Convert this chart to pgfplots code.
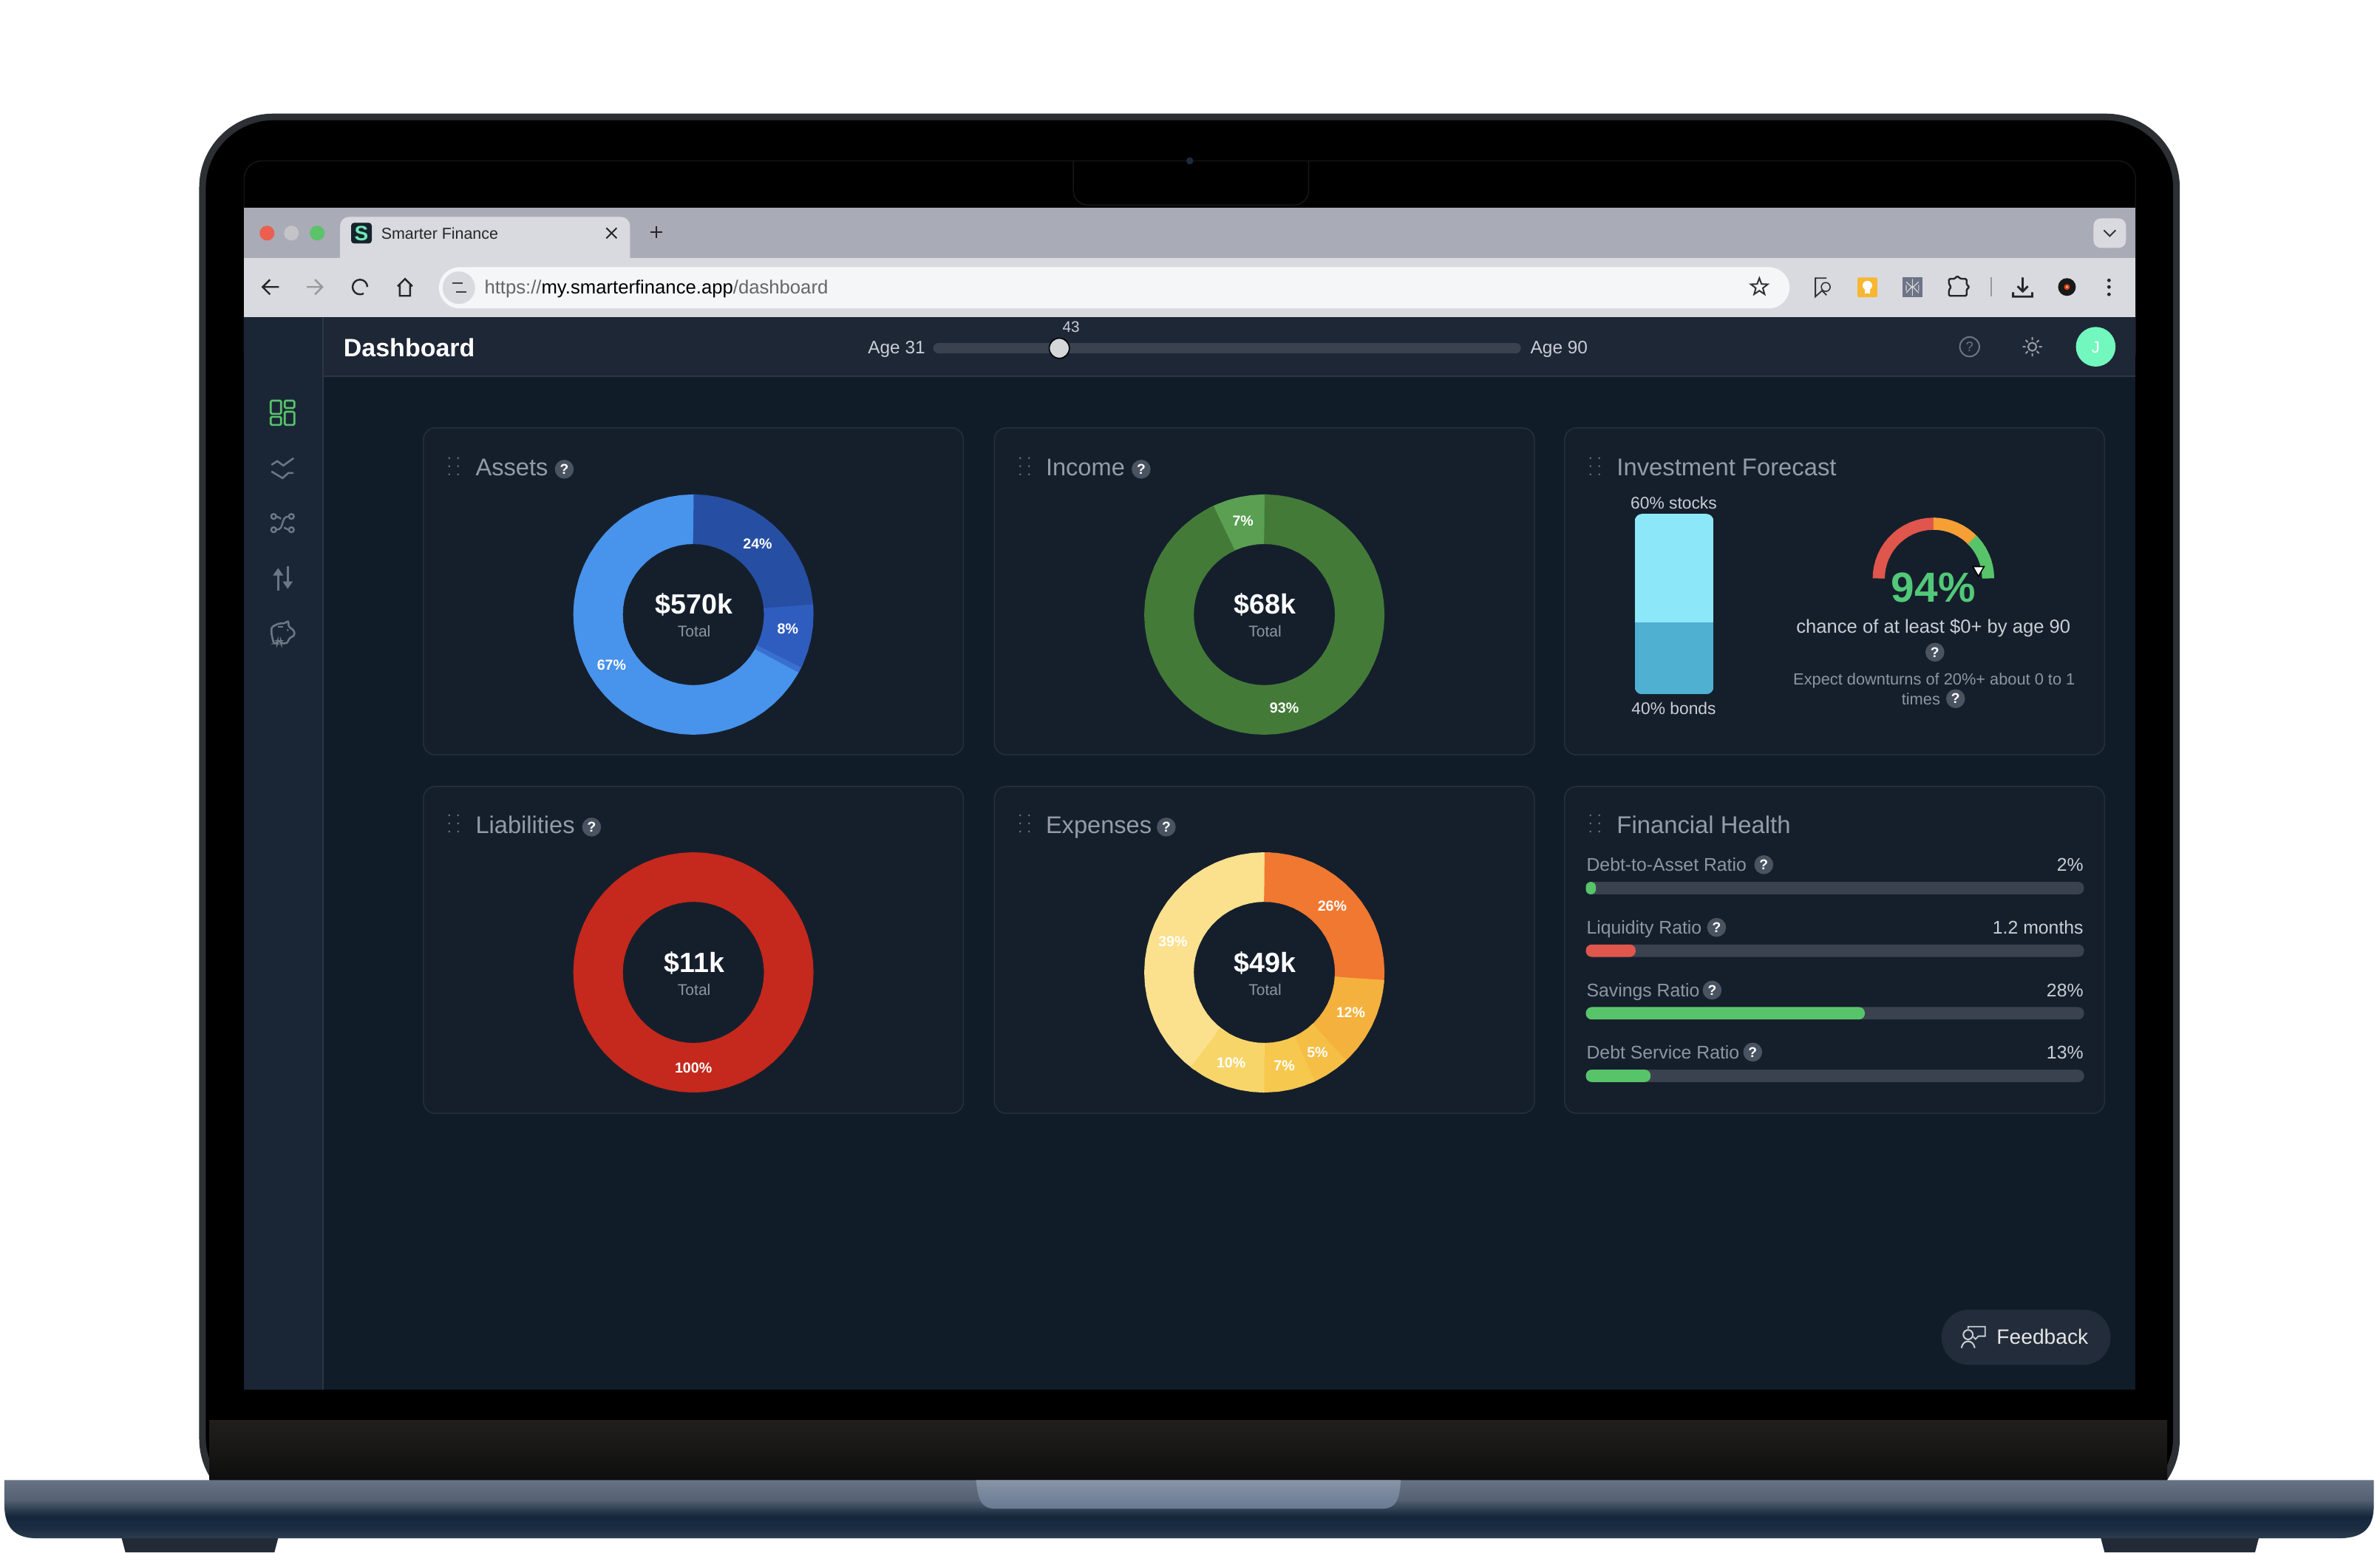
\documentclass[border=0pt]{standalone}
\usepackage{fontspec}
\setmainfont{Liberation Sans}
\usepackage{pgfplots}
\pgfplotsset{compat=1.18}
\usepgfplotslibrary{polar}
\usetikzlibrary{shapes.geometric}
\definecolor{bgmain}{HTML}{101C28}
\definecolor{cardbg}{HTML}{151F2C}
\definecolor{cardln}{HTML}{252F3C}
\definecolor{hdrbg}{HTML}{1E2736}
\definecolor{sidebg}{HTML}{1A2636}
\definecolor{divln}{HTML}{2C3644}
\definecolor{ttl}{HTML}{939CA8}
\definecolor{qbg}{HTML}{4A5361}
\definecolor{txt}{HTML}{C9CED5}
\definecolor{dim}{HTML}{8D97A3}
\definecolor{icon}{HTML}{6D7683}
\definecolor{grn}{HTML}{58C46A}
\definecolor{grnt}{HTML}{52C878}
\definecolor{redb}{HTML}{E0564C}
\definecolor{track}{HTML}{3A4250}
\definecolor{tabs}{HTML}{A9ABB6}
\definecolor{tool}{HTML}{D9DAE0}
\definecolor{assetL}{HTML}{4893EC}
\definecolor{assetS}{HTML}{3A6FD0}
\definecolor{assetM}{HTML}{2F5DBF}
\definecolor{assetD}{HTML}{264FA3}
\definecolor{incD}{HTML}{437A38}
\definecolor{incL}{HTML}{5A9F52}
\definecolor{liab}{HTML}{C5281C}
\definecolor{exp1}{HTML}{F07830}
\definecolor{exp2}{HTML}{F5B13D}
\definecolor{exp3}{HTML}{F5BE45}
\definecolor{exp4}{HTML}{F7C84E}
\definecolor{exp5}{HTML}{F8D569}
\definecolor{exp6}{HTML}{FBE08E}
\definecolor{gaugeO}{HTML}{F59F35}
\definecolor{bondc}{HTML}{50B0D2}
\definecolor{stockc}{HTML}{8CE8F9}
\pgfdeclareverticalshading{basesh}{100bp}{rgb(0bp)=(0.18,0.24,0.31); rgb(25bp)=(0.18,0.24,0.31); rgb(33bp)=(0.11,0.18,0.26); rgb(44bp)=(0.08,0.15,0.23); rgb(58bp)=(0.33,0.38,0.45); rgb(75bp)=(0.40,0.45,0.52); rgb(100bp)=(0.40,0.45,0.52)}
\pgfplotsset{
  px/.style={scale only axis,width=805pt,height=525pt,xmin=0,xmax=3226.4,ymin=0,ymax=2104,y dir=reverse,hide axis,clip=false,at={(0pt,0pt)},anchor=south west,disabledatascaling},
  donut/.style={hide axis,scale only axis,width=81.5pt,height=81.5pt,xmin=0,xmax=360,ymin=0,ymax=163,clip=false,anchor=center},
  ring/.style={no marks,line width=16.75pt,line cap=butt,line join=round,color=#1},
  garc/.style={no marks,line width=4.1pt,line cap=butt,line join=round,color=#1},
}
\newcommand\T[6][base west]{\node[anchor=#1,inner sep=0pt,text=#5,font=\fontsize{#4}{#4}\selectfont,yshift={-0.36*#4pt}] at (axis cs:#2,#3) {#6};}
\newcommand\Q[2]{\fill[qbg] (axis cs:#1,#2) circle (3.2pt);\node[inner sep=0pt,text=white,font=\fontsize{4.8}{4.8}\selectfont\bfseries] at (axis cs:#1,#2) {?};}
\newcommand\Grip[2]{\fill[icon] (axis cs:#1,{#2-11}) circle (0.35pt) (axis cs:#1,#2) circle (0.35pt) (axis cs:#1,{#2+11}) circle (0.35pt) (axis cs:{#1+12},{#2-11}) circle (0.35pt) (axis cs:{#1+12},#2) circle (0.35pt) (axis cs:{#1+12},{#2+11}) circle (0.35pt);}
\newcommand\Card[2]{\filldraw[fill=cardbg,draw=cardln,line width=0.4pt,rounded corners=4pt] (axis cs:#1,#2) rectangle (axis cs:{#1+732},{#2+443});}
\begin{document}
\begin{tikzpicture}
\begin{axis}[px]
\fill[white] (axis cs:0,0) rectangle (axis cs:3226.4,2104);
% lid
\fill[fill={rgb,255:red,44;green,47;blue,52},rounded corners=25pt] (axis cs:270,154) rectangle (axis cs:2955,2050);
\fill[black,rounded corners=23pt] (axis cs:279,163) rectangle (axis cs:2946,2040);
\draw[draw={rgb,255:red,20;green,20;blue,20},line width=0.4pt,rounded corners=6pt] (axis cs:331,218) rectangle (axis cs:2895,500);
\draw[draw={rgb,255:red,22;green,22;blue,22},line width=0.4pt,rounded corners=5pt] (axis cs:1455,200) -- (axis cs:1455,278) -- (axis cs:1774,278) -- (axis cs:1774,200);
\fill[black] (axis cs:1440,190) rectangle (axis cs:1790,217);
\fill[fill={rgb,255:red,29;green,42;blue,62}] (axis cs:1613,218) circle (1.2pt);
% chin
\shade[top color={rgb,255:red,32;green,31;blue,29},bottom color={rgb,255:red,14;green,14;blue,14}] (axis cs:284,1925) rectangle (axis cs:2938,2006);
% feet
\fill[fill={rgb,255:red,34;green,42;blue,54}] (axis cs:165,2085) -- (axis cs:377,2085) -- (axis cs:372,2104) -- (axis cs:170,2104) -- cycle;
\fill[fill={rgb,255:red,34;green,42;blue,54}] (axis cs:2848,2085) -- (axis cs:3062,2085) -- (axis cs:3057,2104) -- (axis cs:2853,2104) -- cycle;
% base
\shade[shading=basesh] (axis cs:6,2006) -- (axis cs:3218,2006) -- (axis cs:3218,2040) .. controls (axis cs:3218,2070) and (axis cs:3205,2085) .. (axis cs:3170,2085) -- (axis cs:50,2085) .. controls (axis cs:20,2085) and (axis cs:6,2070) .. (axis cs:6,2040) -- cycle;
\shade[top color={rgb,255:red,136;green,148;blue,166},bottom color={rgb,255:red,104;green,122;blue,146}] (axis cs:1323,2006) -- (axis cs:1899,2006) .. controls (axis cs:1897,2030) and (axis cs:1895,2045) .. (axis cs:1872,2045) -- (axis cs:1350,2045) .. controls (axis cs:1328,2045) and (axis cs:1326,2030) .. (axis cs:1323,2006) -- cycle;
% screen
\fill[bgmain] (axis cs:331,282) rectangle (axis cs:2895,1883);
\fill[tabs] (axis cs:331,282) rectangle (axis cs:2895,350);
\fill[tool] (axis cs:331,350) rectangle (axis cs:2895,430);
\fill[hdrbg] (axis cs:331,430) rectangle (axis cs:2895,510);
\fill[sidebg] (axis cs:331,430) rectangle (axis cs:438,1883);
\draw[divln,line width=0.5pt] (axis cs:438,430) -- (axis cs:438,1883);
\draw[divln,line width=0.5pt] (axis cs:438,510) -- (axis cs:2895,510);
% tab strip
\fill[tool,rounded corners=3pt] (axis cs:461,294) rectangle (axis cs:854,370);
\fill[fill={rgb,255:red,236;green,95;blue,78}] (axis cs:362,316) circle (2.5pt);
\fill[fill={rgb,255:red,196;green,196;blue,200}] (axis cs:395,316) circle (2.5pt);
\fill[fill={rgb,255:red,92;green,195;blue,106}] (axis cs:430,316) circle (2.5pt);
\fill[fill={rgb,255:red,22;green,35;blue,45},rounded corners=1pt] (axis cs:476,302) rectangle (axis cs:504,330);
\node[inner sep=0pt,text={rgb,255:red,110;green,231;blue,183},font=\fontsize{7}{7}\selectfont\bfseries] at (axis cs:490,316) {S};
\T{516}{316}{5.35}{black!85}{Smarter Finance}
\draw[black!85,line width=0.5pt] (axis cs:822,309) -- (axis cs:836,323) (axis cs:822,323) -- (axis cs:836,309);
\draw[black!85,line width=0.5pt] (axis cs:882,315) -- (axis cs:898,315) (axis cs:890,307) -- (axis cs:890,323);
\fill[tool,rounded corners=2.5pt] (axis cs:2838,296) rectangle (axis cs:2882,336);
\draw[black!80,line width=0.5pt] (axis cs:2852,312) -- (axis cs:2860,320) -- (axis cs:2868,312);
% toolbar
\draw[black!85,line width=0.6pt] (axis cs:356,389) -- (axis cs:378,389) (axis cs:366,379) -- (axis cs:356,389) -- (axis cs:366,399);
\draw[black!40,line width=0.6pt] (axis cs:416,389) -- (axis cs:437,389) (axis cs:427,379) -- (axis cs:437,389) -- (axis cs:427,399);
\draw[black!85,line width=0.6pt] (axis cs:498,389) arc[start angle=0,end angle=300,radius=2.5pt];
\draw[black!85,line width=0.6pt] (axis cs:539,388) -- (axis cs:549,378) -- (axis cs:559,388) (axis cs:542,386) -- (axis cs:542,401) -- (axis cs:556,401) -- (axis cs:556,386);
\fill[fill={rgb,255:red,245;green,246;blue,248},rounded corners=7pt] (axis cs:595,362) rectangle (axis cs:2426,418);
\fill[tool] (axis cs:622,390) circle (5.5pt);
\draw[black!75,line width=0.4pt] (axis cs:613,384) -- (axis cs:627,384) (axis cs:618,396) -- (axis cs:632,396);
\T{656}{389}{6.42}{black}{\textcolor{black!60}{https://}my.smarterfinance.app\textcolor{black!60}{/dashboard}}
\node[star,star points=5,star point ratio=2.4,draw=black!80,line width=0.5pt,inner sep=0pt,minimum size=6pt] at (axis cs:2385,389) {};
% bookmark
\draw[black!80,line width=0.45pt] (axis cs:2476,377) -- (axis cs:2461,377) -- (axis cs:2461,402) -- (axis cs:2470,394) -- (axis cs:2476,400);
\filldraw[fill=tool,draw=black!80,line width=0.4pt] (axis cs:2475,389) circle (1.5pt);
% yellow
\fill[fill={rgb,255:red,247;green,183;blue,49},rounded corners=0.6pt] (axis cs:2518,376) rectangle (axis cs:2545,403);
\fill[white] (axis cs:2531.5,387) circle (1.6pt);
\fill[white] (axis cs:2528,393) rectangle (axis cs:2535,398);
% grey
\fill[fill={rgb,255:red,108;green,116;blue,134}] (axis cs:2579,376) rectangle (axis cs:2606,403);
\draw[white!85!black,line width=0.3pt] (axis cs:2592.5,378) -- (axis cs:2592.5,401) (axis cs:2584,382) -- (axis cs:2592.5,390) -- (axis cs:2601,382) (axis cs:2584,397) -- (axis cs:2592.5,388) -- (axis cs:2601,397) (axis cs:2584,386) -- (axis cs:2584,394) (axis cs:2601,386) -- (axis cs:2601,394);
% puzzle
\draw[black!85,line width=0.6pt,rounded corners=0.4pt] (axis cs:2642,378) -- (axis cs:2650,378) -- (axis cs:2653,374) -- (axis cs:2658,378) -- (axis cs:2666,378) -- (axis cs:2666,386) -- (axis cs:2670,389) -- (axis cs:2666,392) -- (axis cs:2666,401) -- (axis cs:2642,401) -- (axis cs:2642,393) -- (axis cs:2645,389) -- (axis cs:2642,385) -- cycle;
\draw[black!40,line width=0.5pt] (axis cs:2699,376) -- (axis cs:2699,402);
% download
\draw[black!85,line width=0.7pt] (axis cs:2742,376) -- (axis cs:2742,394) (axis cs:2735,388) -- (axis cs:2742,395) -- (axis cs:2749,388) (axis cs:2729,396) -- (axis cs:2729,402) -- (axis cs:2755,402) -- (axis cs:2755,396);
% disc
\fill[black!90] (axis cs:2802,389) circle (3pt);
\fill[fill={rgb,255:red,224;green,60;blue,40}] (axis cs:2802,389) circle (1pt);
\fill[fill={rgb,255:red,250;green,210;blue,80}] (axis cs:2802,389) circle (0.4pt);
\fill[black!85] (axis cs:2859,380) circle (0.6pt) (axis cs:2859,389) circle (0.6pt) (axis cs:2859,399) circle (0.6pt);
% header
\T{465}{471}{8.5}{white}{\bfseries Dashboard}
\T[base east]{1255}{471}{6.1}{txt}{Age 31}
\T{2074}{471}{6.1}{txt}{Age 90}
\T[base]{1452}{443}{5.2}{txt}{43}
\addplot[color=track,line width=3.4pt,line cap=round] coordinates {(1272,472) (2055,472)};
\addplot[only marks,mark=*,mark size=3.4pt,mark options={fill={rgb,255:red,213;green,214;blue,216},draw=none}] coordinates {(1436,472)};
\draw[icon,line width=0.5pt] (axis cs:2670,470) circle (3.3pt);
\node[inner sep=0pt,text=icon,font=\fontsize{4.6}{4.6}\selectfont] at (axis cs:2670,470) {?};
\draw[icon!70!white,line width=0.5pt] (axis cs:2755,470) circle (1.4pt);
\draw[icon!70!white,line width=0.5pt] (axis cs:2755,457) -- (axis cs:2755,461) (axis cs:2755,479) -- (axis cs:2755,483) (axis cs:2742,470) -- (axis cs:2746,470) (axis cs:2764,470) -- (axis cs:2768,470) (axis cs:2746,461) -- (axis cs:2749,464) (axis cs:2761,476) -- (axis cs:2764,479) (axis cs:2746,479) -- (axis cs:2749,476) (axis cs:2761,464) -- (axis cs:2764,461);
\fill[fill={rgb,255:red,114;green,248;blue,190}] (axis cs:2841,470) circle (6.7pt);
\T[base]{2841}{470}{5.5}{white}{J}
% side icons
\draw[grn,line width=0.65pt,rounded corners=0.4pt] (axis cs:367,543) rectangle (axis cs:381,561) (axis cs:386,543) rectangle (axis cs:399,553) (axis cs:367,565) rectangle (axis cs:381,576) (axis cs:386,558) rectangle (axis cs:399,576);
\draw[icon,line width=0.65pt] (axis cs:368,630) -- (axis cs:376,625) -- (axis cs:384,631) -- (axis cs:398,621) (axis cs:368,639) -- (axis cs:383,648) -- (axis cs:391,641) -- (axis cs:398,641);
\draw[icon,line width=0.6pt] (axis cs:371,700) circle (0.85pt) (axis cs:395,700) circle (0.85pt) (axis cs:371,718) circle (0.85pt) (axis cs:395,718) circle (0.85pt);
\draw[icon,line width=0.6pt] (axis cs:375,700) -- (axis cs:381,703) (axis cs:385,715) -- (axis cs:391,718) (axis cs:391,700) .. controls (axis cs:380,700) and (axis cs:386,718) .. (axis cs:375,718);
\draw[icon,line width=0.7pt] (axis cs:377,800) -- (axis cs:377,775) (axis cs:390,767) -- (axis cs:390,790);
\fill[icon] (axis cs:370,780) -- (axis cs:377,770) -- (axis cs:384,780) -- cycle (axis cs:383,788) -- (axis cs:390,798) -- (axis cs:397,788) -- cycle;
\draw[icon,line width=0.65pt,rounded corners=0.7pt] (axis cs:368,850) -- (axis cs:378,845) -- (axis cs:386,845) -- (axis cs:391,841) -- (axis cs:391,849) -- (axis cs:399,855) -- (axis cs:399,862) -- (axis cs:393,864) -- (axis cs:389,872) -- (axis cs:381,872) -- (axis cs:381,869) -- (axis cs:376,869) -- (axis cs:376,872) -- (axis cs:371,872) -- (axis cs:368,859) -- cycle;
\draw[icon,line width=0.5pt] (axis cs:377,850) -- (axis cs:384,850);
\fill[icon] (axis cs:390,854) circle (0.35pt);
% cards
\Card{574}{580}\Card{1348}{580}\Card{2121}{580}\Card{574}{1066}\Card{1348}{1066}\Card{2121}{1066}
\Grip{609}{632}\Grip{1383}{632}\Grip{2156}{632}\Grip{609}{1116}\Grip{1383}{1116}\Grip{2156}{1116}
\T{644}{633}{8.15}{ttl}{Assets}
\T{1417}{633}{8.15}{ttl}{Income}
\T{2191}{633}{8.2}{ttl}{Investment Forecast}
\T{644}{1118}{8.15}{ttl}{Liabilities}
\T{1417}{1118}{8.15}{ttl}{Expenses}
\T{2191}{1118}{8.2}{ttl}{Financial Health}
\Q{765}{636}\Q{1547}{636}\Q{802}{1121}\Q{1581}{1121}
% forecast texts
\T[base]{2269}{682}{5.7}{txt}{60\% stocks}
\T[base]{2269}{960}{5.7}{txt}{40\% bonds}
\T[base]{2621}{796}{14.2}{grnt}{\bfseries 94\%}
\T[base]{2621}{849}{6.4}{txt}{chance of at least \$0+ by age 90}
\Q{2623}{884}
\T[base]{2622}{920}{5.45}{dim}{Expect downturns of 20\%+ about 0 to 1}
\T[base]{2604}{947}{5.45}{dim}{times}
\Q{2651}{947}
% health texts
\T{2150}{1172}{6.2}{dim}{Debt-to-Asset Ratio}\Q{2391}{1172}
\T{2150}{1257}{6.2}{dim}{Liquidity Ratio}\Q{2327}{1257}
\T{2150}{1342}{6.2}{dim}{Savings Ratio}\Q{2321}{1342}
\T{2150}{1426}{6.2}{dim}{Debt Service Ratio}\Q{2376}{1426}
\T[base east]{2825}{1172}{6.2}{txt}{2\%}
\T[base east]{2825}{1257}{6.2}{txt}{1.2 months}
\T[base east]{2825}{1342}{6.2}{txt}{28\%}
\T[base east]{2825}{1426}{6.2}{txt}{13\%}
% feedback
\fill[fill={rgb,255:red,34;green,44;blue,58},rounded corners=9.2pt] (axis cs:2632,1775) rectangle (axis cs:2861,1850);
\T{2706}{1812}{7.05}{white!90!black}{Feedback}
\draw[txt,line width=0.45pt] (axis cs:2668,1801) -- (axis cs:2668,1798) -- (axis cs:2691,1798) -- (axis cs:2691,1811) -- (axis cs:2682,1811) -- (axis cs:2678,1815) -- (axis cs:2675,1812);
\draw[txt,line width=0.5pt] (axis cs:2668,1809) circle (1.6pt) (axis cs:2659,1827) .. controls (axis cs:2661,1815) and (axis cs:2675,1815) .. (axis cs:2677,1827);
\coordinate (d1) at (axis cs:940,833);
\coordinate (d2) at (axis cs:1714,833);
\coordinate (d3) at (axis cs:940,1318);
\coordinate (d4) at (axis cs:1714,1318);
\coordinate (g) at (axis cs:2621,784);
\coordinate (barA) at (axis cs:2216,696.5);
\coordinate (barB) at (axis cs:2323,941);
\coordinate (hc) at (axis cs:2487.5,1331);
\end{axis}
% Assets
\begin{polaraxis}[donut,at={(d1)}]
\addplot[ring=assetL] coordinates {(-24,129)(-30,129)(-36,129)(-42,129)(-48,129)(-54,129)(-60,129)(-66,129)(-72,129)(-78,129)(-84,129)(-90,129)(-96,129)(-102,129)(-108,129)(-114,129)(-120,129)(-126,129)(-132,129)(-138,129)(-144,129)(-150,129)(-156,129)(-162,129)(-168,129)(-174,129)(-180,129)(-186,129)(-192,129)(-198,129)(-204,129)(-210,129)(-216,129)(-222,129)(-228,129)(-234,129)(-240,129)(-246,129)(-252,129)(-258,129)(-264,129)(-270,129)(-273,129)};
\addplot[ring=assetD] coordinates {(90,129)(89.5,129)(84,129)(78,129)(72,129)(66,129)(60,129)(54,129)(48,129)(42,129)(36,129)(30,129)(24,129)(18,129)(12,129)(6,129)(2,129)};
\addplot[ring=assetM] coordinates {(5,129)(4.5,129)(0,129)(-6,129)(-12,129)(-18,129)(-24,129)(-28,129)};
\addplot[ring=assetS] coordinates {(-26,129)(-26.3,129)(-28.7,129)(-29,129)};
\end{polaraxis}
% Income
\begin{polaraxis}[donut,at={(d2)}]
\addplot[ring=incL] coordinates {(-242,129)(-246,129)(-252,129)(-258,129)(-264,129)(-270,129)(-273,129)};
\addplot[ring=incD] coordinates {(90,129)(89.5,129)(84,129)(78,129)(72,129)(66,129)(60,129)(54,129)(48,129)(42,129)(36,129)(30,129)(24,129)(18,129)(12,129)(6,129)(0,129)(-6,129)(-12,129)(-18,129)(-24,129)(-30,129)(-36,129)(-42,129)(-48,129)(-54,129)(-60,129)(-66,129)(-72,129)(-78,129)(-84,129)(-90,129)(-96,129)(-102,129)(-108,129)(-114,129)(-120,129)(-126,129)(-132,129)(-138,129)(-144,129)(-150,129)(-156,129)(-162,129)(-168,129)(-174,129)(-180,129)(-186,129)(-192,129)(-198,129)(-204,129)(-210,129)(-216,129)(-222,129)(-228,129)(-234,129)(-240,129)(-244.5,129)(-245,129)};
\end{polaraxis}
% Liabilities
\begin{polaraxis}[donut,at={(d3)}]
\addplot[ring=liab] coordinates {(96,129)(90,129)(84,129)(78,129)(72,129)(66,129)(60,129)(54,129)(48,129)(42,129)(36,129)(30,129)(24,129)(18,129)(12,129)(6,129)(0,129)(-6,129)(-12,129)(-18,129)(-24,129)(-30,129)(-36,129)(-42,129)(-48,129)(-54,129)(-60,129)(-66,129)(-72,129)(-78,129)(-84,129)(-90,129)(-96,129)(-102,129)(-108,129)(-114,129)(-120,129)(-126,129)(-132,129)(-138,129)(-144,129)(-150,129)(-156,129)(-162,129)(-168,129)(-174,129)(-180,129)(-186,129)(-192,129)(-198,129)(-204,129)(-210,129)(-216,129)(-222,129)(-228,129)(-234,129)(-240,129)(-246,129)(-252,129)(-258,129)(-264,129)(-270,129)};
\end{polaraxis}
% Expenses
\begin{polaraxis}[donut,at={(d4)}]
\addplot[ring=exp6] coordinates {(-125,129)(-132,129)(-138,129)(-144,129)(-150,129)(-156,129)(-162,129)(-168,129)(-174,129)(-180,129)(-186,129)(-192,129)(-198,129)(-204,129)(-210,129)(-216,129)(-222,129)(-228,129)(-234,129)(-240,129)(-246,129)(-252,129)(-258,129)(-264,129)(-270,129)(-273,129)};
\addplot[ring=exp1] coordinates {(90,129)(89.5,129)(84,129)(78,129)(72,129)(66,129)(60,129)(54,129)(48,129)(42,129)(36,129)(30,129)(24,129)(18,129)(12,129)(6,129)(0,129)(-6,129)};
\addplot[ring=exp2] coordinates {(-3.6,129)(-4.1,129)(-9,129)(-15,129)(-21,129)(-27,129)(-33,129)(-39,129)(-45,129)(-50,129)};
\addplot[ring=exp3] coordinates {(-47,129)(-47.5,129)(-53,129)(-59,129)(-65,129)(-68,129)};
\addplot[ring=exp4] coordinates {(-65,129)(-65.5,129)(-71,129)(-77,129)(-83,129)(-90,129)(-93,129)};
\addplot[ring=exp5] coordinates {(-90,129)(-90.5,129)(-96,129)(-102,129)(-108,129)(-114,129)(-120,129)(-127.5,129)(-128,129)};
\end{polaraxis}
% Gauge
\begin{polaraxis}[hide axis,scale only axis,width=41pt,height=41pt,xmin=0,xmax=360,ymin=0,ymax=82,clip=false,anchor=center,at={(g)}]
\addplot[garc=redb] coordinates {(180,74)(179.5,74)(174,74)(168,74)(162,74)(156,74)(150,74)(144,74)(138,74)(132,74)(126,74)(120,74)(114,74)(108,74)(102,74)(96,74)(90,74)(87,74)};
\addplot[garc=gaugeO] coordinates {(90,74)(89.5,74)(84,74)(78,74)(72,74)(66,74)(60,74)(54,74)(48,74)(42,74)};
\addplot[garc=grn] coordinates {(45,74)(44.5,74)(42,74)(36,74)(30,74)(24,74)(18,74)(12,74)(6,74)(0.5,74)(0,74)};
\addplot[only marks,mark=triangle*,mark size=2.2pt,mark options={fill=white,draw=none,rotate=60}] coordinates {(10.8,62)};
\end{polaraxis}
% Stock / bond bar
\begin{scope}
\clip[rounded corners=2.5pt] (barA) rectangle (barB);
\begin{axis}[hide axis,scale only axis,width=26.75pt,height=61pt,xmin=-0.5,xmax=0.5,ymin=0,ymax=100,ybar stacked,bar width=26.75pt,at={(barA)},anchor=north west]
\addplot[fill=bondc,draw=none] coordinates {(0,40)};
\addplot[fill=stockc,draw=none] coordinates {(0,60)};
\end{axis}
\end{scope}
% Health bars
\begin{axis}[hide axis,scale only axis,width=168.5pt,height=84.67pt,xmin=0,xmax=100,ymin=-0.5,ymax=3.5,y dir=reverse,xbar,bar shift=0pt,bar width=4.2pt,at={(hc)},anchor=center]
\addplot[fill=track,draw=none,rounded corners=2pt] coordinates {(100,0)(100,1)(100,2)(100,3)};
\addplot[fill=grn,draw=none,rounded corners=1.6pt] coordinates {(2,0)};
\addplot[fill=redb,draw=none,rounded corners=2pt] coordinates {(10,1)};
\addplot[fill=grn,draw=none,rounded corners=2pt] coordinates {(56,2)(13,3)};
\end{axis}
% overlay text
\begin{axis}[px]
\T[base]{941}{819}{9.4}{white}{\bfseries\$570k}
\T[base]{941}{856}{5.25}{dim}{Total}
\T[base]{1715}{819}{9.4}{white}{\bfseries\$68k}
\T[base]{1715}{856}{5.25}{dim}{Total}
\T[base]{941}{1304}{9.4}{white}{\bfseries\$11k}
\T[base]{941}{1341}{5.25}{dim}{Total}
\T[base]{1715}{1304}{9.4}{white}{\bfseries\$49k}
\T[base]{1715}{1341}{5.25}{dim}{Total}
\T[base]{1027}{737}{4.9}{white}{\bfseries 24\%}
\T[base]{1068}{852}{4.9}{white}{\bfseries 8\%}
\T[base]{829}{901}{4.9}{white}{\bfseries 67\%}
\T[base]{1685}{706}{4.9}{white}{\bfseries 7\%}
\T[base]{1741}{959}{4.9}{white}{\bfseries 93\%}
\T[base]{940}{1447}{4.9}{white}{\bfseries 100\%}
\T[base]{1806}{1228}{4.9}{white}{\bfseries 26\%}
\T[base]{1831}{1372}{4.9}{white}{\bfseries 12\%}
\T[base]{1786}{1426}{4.9}{white}{\bfseries 5\%}
\T[base]{1741}{1444}{4.9}{white}{\bfseries 7\%}
\T[base]{1669}{1440}{4.9}{white}{\bfseries 10\%}
\T[base]{1590}{1276}{4.9}{white}{\bfseries 39\%}
\end{axis}
\end{tikzpicture}
\end{document}
